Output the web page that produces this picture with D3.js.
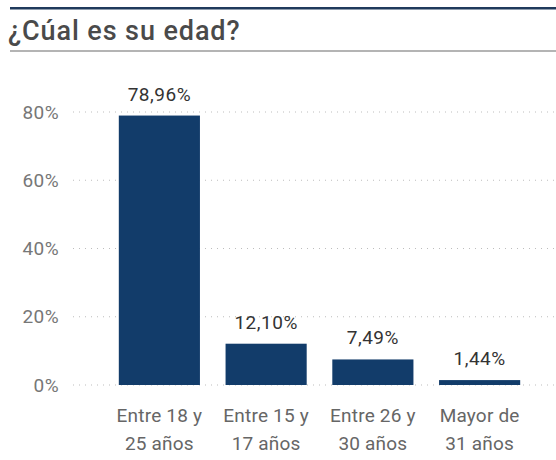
<!DOCTYPE html>
<html>
<head>
<meta charset="utf-8">
<script src="https://cdn.jsdelivr.net/npm/d3@7"></script>
<style>
  body { margin: 0; background: #fff; }
  text { font-family: "Roboto", sans-serif; }
</style>
</head>
<body>
<script>
'use strict';

// chart data
let categories = [["Entre 18 y", "25 años"], ["Entre 15 y", "17 años"], ["Entre 26 y", "30 años"], ["Mayor de", "31 años"]];
let values = [78.96, 12.10, 7.49, 1.44];
let valueLabels = ["78,96%", "12,10%", "7,49%", "1,44%"];
let yTicks = [0, 20, 40, 60, 80];
let title = "¿Cúal es su edad?";

(function() {
  let svg = d3.select('body')
    .append('svg')
    .attr('width', 556)
    .attr('height', 460);

  // header lines and title
  svg.append('rect')
    .attr('x', 10).attr('y', 7)
    .attr('width', 546).attr('height', 2.5)
    .attr('fill', '#1f3a5c');

  svg.append('rect')
    .attr('x', 10).attr('y', 50)
    .attr('width', 546).attr('height', 2)
    .attr('fill', '#b4b4b4');

  svg.append('text')
    .attr('x', 8)
    .attr('y', 40)
    .style('font-size', '27px')
    .style('font-weight', 500)
    .style('letter-spacing', '0.9px')
    .attr('fill', '#4a4a4a')
    .text(title);

  // scales
  let xScale = d3.scaleBand()
    .domain(d3.range(values.length))
    .range([106, 533])
    .paddingInner(0.24)
    .paddingOuter(0.12);

  let yScale = d3.scaleLinear()
    .domain([0, 80])
    .range([385, 112]);

  // gridlines
  svg.append('g')
    .selectAll('line')
    .data(yTicks)
    .enter()
    .append('line')
      .attr('x1', 73)
      .attr('x2', 556)
      .attr('y1', (d) => yScale(d))
      .attr('y2', (d) => yScale(d))
      .attr('stroke', '#bdbdbd')
      .attr('stroke-width', 1)
      .attr('stroke-dasharray', '1,5');

  // y axis labels
  let yAxis = d3.axisLeft(yScale)
    .tickValues(yTicks)
    .tickFormat((d) => d + '%')
    .tickSize(0)
    .tickPadding(0);

  let yG = svg.append('g')
    .attr('transform', 'translate(59, 0)')
    .call(yAxis);
  yG.select('.domain').remove();
  yG.selectAll('text')
    .style('font-family', 'Roboto, sans-serif')
    .style('font-size', '19px')
    .style('letter-spacing', '0.4px')
    .attr('fill', '#777');

  // bars
  svg.selectAll('.bar')
    .data(values)
    .enter()
    .append('rect')
      .attr('class', 'bar')
      .attr('x', (d, i) => xScale(i))
      .attr('y', (d) => yScale(d))
      .attr('width', xScale.bandwidth())
      .attr('height', (d) => yScale(0) - yScale(d))
      .attr('fill', '#123c6a');

  // value labels
  svg.selectAll('.vlabel')
    .data(values)
    .enter()
    .append('text')
      .attr('class', 'vlabel')
      .attr('x', (d, i) => xScale(i) + xScale.bandwidth() / 2)
      .attr('y', (d) => yScale(d) - 15)
      .attr('text-anchor', 'middle')
      .style('font-size', '19px')
      .style('letter-spacing', '0.5px')
      .attr('fill', '#333')
      .text((d, i) => valueLabels[i]);

  // x axis labels (two lines)
  let xAxis = d3.axisBottom(xScale)
    .tickSize(0)
    .tickFormat('');
  let xG = svg.append('g')
    .attr('transform', 'translate(0, ' + yScale(0) + ')')
    .call(xAxis);
  xG.select('.domain').remove();
  xG.selectAll('.tick').each(function(d) {
    let t = d3.select(this).append('text')
      .attr('text-anchor', 'middle')
      .attr('fill', '#666')
      .style('font-family', 'Roboto, sans-serif')
      .style('font-size', '19px')
      .style('letter-spacing', '0.2px');
    t.append('tspan').attr('x', 0).attr('y', 37).text(categories[d][0]);
    t.append('tspan').attr('x', 0).attr('y', 65).text(categories[d][1]);
  });
})();
</script>
</body>
</html>
